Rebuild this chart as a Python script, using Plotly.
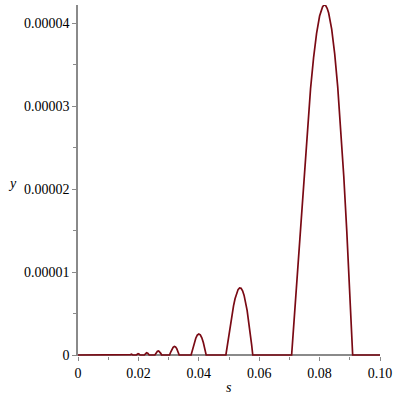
import plotly.graph_objects as go

# Curve samples (s, y)
s_vals = [
    0.0, 0.01306, 0.01326, 0.01364,
    0.01420, 0.01447, 0.01488,
    0.01556, 0.0159, 0.01637,
    0.01721, 0.0174, 0.0177, 0.0180, 0.01819,
    0.01929, 0.0196, 0.0199, 0.0202, 0.02054,
    0.02195, 0.0223, 0.0227, 0.0231, 0.02358,
    0.02546, 0.0259, 0.0263, 0.0267, 0.0271, 0.0274, 0.02768,
    0.03032, 0.0307, 0.0311, 0.0315, 0.0319, 0.0323, 0.0327, 0.0331, 0.03351,
    0.03745, 0.0380, 0.0385, 0.0390, 0.0395, 0.0400, 0.0405, 0.0410, 0.0415, 0.0420, 0.04244,
    0.04897, 0.0495, 0.0500, 0.0505, 0.0510, 0.0515, 0.0520, 0.0525, 0.0530, 0.0535,
    0.0540, 0.0545, 0.0550, 0.0560, 0.0565, 0.0570, 0.0575, 0.05787,
    0.07074, 0.0710, 0.0715, 0.0720, 0.0730, 0.0740, 0.0750, 0.0760, 0.0770, 0.0780,
    0.0790, 0.0800, 0.0805, 0.0810, 0.0815, 0.0820, 0.0825, 0.0830, 0.0840, 0.0850,
    0.0860, 0.0870, 0.0880, 0.0890, 0.0900, 0.0905, 0.09095,
    0.10,
]
y_vals = [
    0.0, 0.0, 3.1e-8, 0.0,
    0.0, 4.4e-8, 0.0,
    0.0, 6.4e-8, 0.0,
    0.0, 5.5e-8, 9.8e-8, 5.7e-8, 0.0,
    0.0, 1.08e-7, 1.57e-7, 1.21e-7, 0.0,
    0.0, 1.61e-7, 2.65e-7, 2.19e-7, 0.0,
    0.0, 2.76e-7, 4.54e-7, 4.93e-7, 3.76e-7, 2.03e-7, 0.0,
    0.0, 3.57e-7, 6.92e-7, 9.31e-7, 1.033e-6, 9.77e-7, 7.67e-7, 4.30e-7, 0.0,
    0.0, 7.88e-7, 1.464e-6, 2.021e-6, 2.394e-6, 2.537e-6, 2.433e-6, 2.082e-6, 1.511e-6, 7.62e-7, 0.0,
    0.0, 1.300e-6, 2.551e-6, 3.772e-6, 4.912e-6, 5.930e-6, 6.787e-6, 7.449e-6, 7.889e-6, 8.090e-6,
    8.041e-6, 7.738e-6, 7.184e-6, 5.377e-6, 4.159e-6, 2.766e-6, 1.228e-6, 0.0,
    0.0, 1.339e-6, 3.936e-6, 6.605e-6, 1.2061e-5, 1.7515e-5, 2.2783e-5, 2.7694e-5, 3.2088e-5, 3.5827e-5,
    3.8786e-5, 4.0870e-5, 4.1559e-5, 4.2001e-5, 4.2200e-5, 4.2133e-5, 4.1808e-5, 4.1237e-5, 3.9282e-5, 3.6306e-5,
    3.2328e-5, 2.7362e-5, 2.1577e-5, 1.4939e-5, 7.558e-6, 3.629e-6, 0.0,
    0.0,
]

x_tick_vals = [0, 0.02, 0.04, 0.06, 0.08, 0.10]
x_tick_text = ["0", "0.02", "0.04", "0.06", "0.08", "0.10"]
y_tick_vals = [0, 0.00001, 0.00002, 0.00003, 0.00004]
y_tick_text = ["0", "0.00001", "0.00002", "0.00003", "0.00004"]
x_minor_step = 0.01
y_minor_step = 0.000005

axis_gray = "#8a8a8a"
FAMILY = "Times New Roman, Liberation Serif, serif"
TICKFONT = dict(family=FAMILY, size=14, color="black")
LABELFONT = dict(family=FAMILY, size=14, color="black")

fig = go.Figure()
fig.add_trace(go.Scatter(
    x=s_vals, y=y_vals, mode="lines",
    line=dict(color="#7a0a14", width=1.7),
    hoverinfo="skip", showlegend=False,
))

fig.update_layout(
    template="none",
    width=400, height=400,
    margin=dict(l=78, r=20, t=5, b=44, autoexpand=False),
    paper_bgcolor="white", plot_bgcolor="white",
    font=TICKFONT,
    showlegend=False,
    hovermode=False,
    xaxis=dict(
        range=[0, 0.1], showgrid=False, zeroline=False, showline=False,
        automargin=False,
        tickmode="array", tickvals=x_tick_vals, ticktext=x_tick_text,
        ticks="outside", ticklen=4, tickwidth=1, tickcolor=axis_gray,
        minor=dict(tickmode="linear", tick0=0, dtick=x_minor_step, ticks="outside",
                   ticklen=3, tickwidth=1, tickcolor=axis_gray),
        tickfont=TICKFONT,
    ),
    yaxis=dict(
        range=[-1.2e-7, 4.22e-5], showgrid=False, automargin=False,
        zeroline=True, zerolinecolor=axis_gray, zerolinewidth=1.6,
        showline=True, linecolor=axis_gray, linewidth=1.6,
        tickmode="array", tickvals=y_tick_vals, ticktext=y_tick_text,
        ticks="outside", ticklen=4, tickwidth=1, tickcolor=axis_gray,
        minor=dict(tickmode="linear", tick0=0, dtick=y_minor_step, ticks="outside",
                   ticklen=3, tickwidth=1, tickcolor=axis_gray),
        tickfont=TICKFONT,
    ),
)

plot_w = 400 - 78 - 20
plot_h = 400 - 5 - 44
fig.add_annotation(text="<i>s</i>", x=0.5, y=-31 / plot_h, xref="paper", yref="paper",
                   showarrow=False, font=LABELFONT,
                   xanchor="center", yanchor="middle")
fig.add_annotation(text="<i>y</i>", x=(12 - 78) / plot_w, y=(356 - 183) / plot_h,
                   xref="paper", yref="paper", showarrow=False,
                   font=LABELFONT,
                   xanchor="center", yanchor="middle")

fig.write_html("out.html", config={"displayModeBar": False},
               post_script="document.body.style.margin='0px';")
